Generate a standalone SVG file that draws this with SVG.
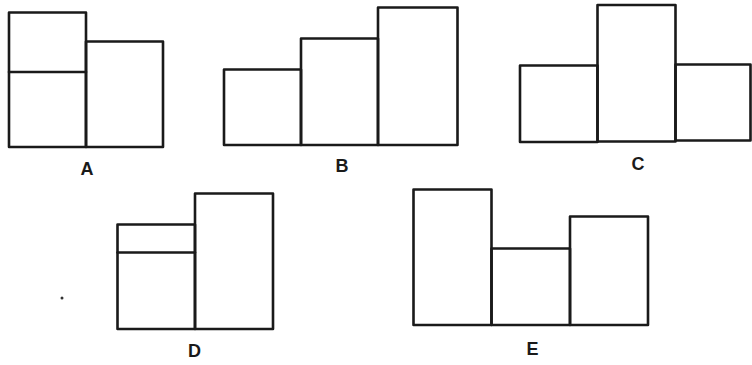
<svg xmlns="http://www.w3.org/2000/svg" width="752" height="365" viewBox="0 0 752 365">
<style>
.b{fill:none;stroke:#1a1a1a;stroke-width:2.6;stroke-linejoin:round;stroke-linecap:round}
.l{font-family:"Liberation Sans",Arial,sans-serif;font-weight:bold;font-size:18px;fill:#1a1a1a;text-anchor:middle}
</style>
<rect width="752" height="365" fill="#fff"/>
<g id="A">
<rect class="b" x="9" y="12.5" width="77" height="134.5"/>
<line class="b" x1="9" y1="72" x2="86" y2="72"/>
<rect class="b" x="86" y="41.5" width="77" height="105.5"/>
<text class="l" x="87" y="175">A</text>
</g>
<g id="B">
<rect class="b" x="224" y="69.5" width="77" height="75.5"/>
<rect class="b" x="301" y="38.5" width="77" height="106.5"/>
<rect class="b" x="378" y="7.5" width="79.5" height="137.5"/>
<text class="l" x="342" y="172">B</text>
</g>
<g id="C">
<rect class="b" x="520" y="65.5" width="77.5" height="76.5"/>
<rect class="b" x="597.5" y="5" width="78" height="136.5"/>
<rect class="b" x="675.5" y="64.5" width="75" height="76"/>
<text class="l" x="638" y="170">C</text>
</g>
<g id="D">
<rect class="b" x="117.5" y="224.5" width="77.5" height="104.5"/>
<line class="b" x1="117.5" y1="252.5" x2="195" y2="252.5"/>
<rect class="b" x="195" y="193.5" width="78" height="135.5"/>
<text class="l" x="194.5" y="357">D</text>
</g>
<g id="E">
<rect class="b" x="413.5" y="189.5" width="78" height="135.5"/>
<rect class="b" x="491.5" y="248.5" width="78.5" height="76.5"/>
<rect class="b" x="570" y="216.5" width="78" height="108.5"/>
<text class="l" x="532.5" y="355">E</text>
</g>
<circle cx="62" cy="298" r="1.5" fill="#333"/>
</svg>
